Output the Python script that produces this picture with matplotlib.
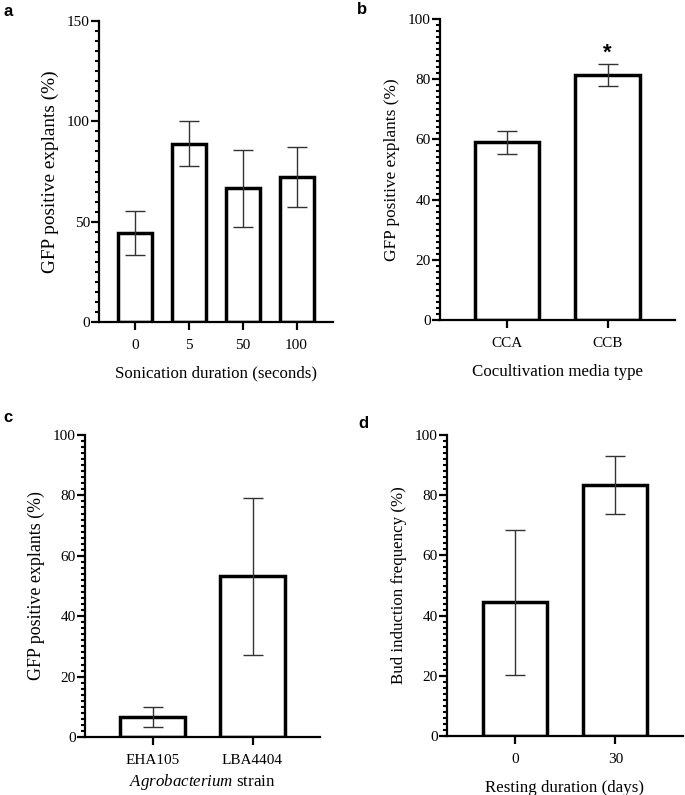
import numpy as np
import matplotlib
matplotlib.use("Agg")
import matplotlib.pyplot as plt
from matplotlib.ticker import MultipleLocator

plt.rcParams["font.family"] = ["Liberation Serif", "DejaVu Serif"]
plt.rcParams["mathtext.fontset"] = "custom"
plt.rcParams["mathtext.rm"] = "Liberation Serif"
plt.rcParams["mathtext.it"] = "Liberation Serif:italic"

# panel a: sonication duration
a_cats = ["0", "5", "50", "100"]
a_vals = [44.4, 88.9, 66.7, 72.2]
a_err = [11.1, 11.1, 19.2, 14.8]

# panel b: cocultivation media
b_cats = ["CCA", "CCB"]
b_vals = [59.0, 81.5]
b_err = [3.7, 3.7]

# panel c: Agrobacterium strain
c_cats = ["EHA105", "LBA4404"]
c_vals = [6.7, 53.3]
c_err = [3.3, 26.0]

# panel d: resting duration
d_cats = ["0", "30"]
d_vals = [44.4, 83.3]
d_err = [24.2, 9.6]

W, H = 685, 795
fig = plt.figure(figsize=(W / 100, H / 100), dpi=100)


def box(l, r, t, b):
    return [l / W, 1 - b / H, (r - l) / W, (b - t) / H]


def panel(rect, cats, vals, err, ymax, major, minor, width, xlim, ylabel, xlabel,
          letter, letter_xy, ysize=12.2, xpad=10, star=None):
    ax = fig.add_axes(rect)
    x = np.arange(len(cats))
    ax.bar(x, vals, width=width, color="white", edgecolor="black", linewidth=2.5,
           zorder=2)
    ax.errorbar(x, vals, yerr=err, fmt="none", ecolor="#333333", elinewidth=1.0,
                capsize=7, capthick=1.0, zorder=3)
    ax.set_ylim(0, ymax)
    ax.set_xlim(*xlim)
    ax.yaxis.set_major_locator(MultipleLocator(major))
    ax.yaxis.set_minor_locator(MultipleLocator(minor))
    ax.set_xticks(x)
    ax.set_xticklabels(cats)
    ax.spines[["top", "right"]].set_visible(False)
    ax.spines[["left", "bottom"]].set_linewidth(1.6)
    ax.tick_params(axis="y", which="major", length=5.5, width=1.6, labelsize=11, pad=1)
    ax.tick_params(axis="y", which="minor", length=3, width=1.5)
    ax.tick_params(axis="x", which="major", length=6, width=1.6, labelsize=11, pad=6)
    ax.set_ylabel(ylabel, fontsize=ysize, labelpad=6)
    ax.set_xlabel(xlabel, fontsize=12.2, labelpad=xpad)
    if star is not None:
        ax.text(star[0], star[1], "*", ha="center", va="center", fontsize=16,
                fontweight="bold", family="Liberation Sans")
    fig.text(letter_xy[0] / W, 1 - letter_xy[1] / H, letter, fontsize=12,
             fontweight="bold", family="Liberation Sans", ha="left", va="center")
    return ax


panel(box(99, 333, 21, 322), a_cats, a_vals, a_err, 150, 50, 5, 0.63,
      (-0.667, 3.676), "GFP positive explants (%)", "Sonication duration (seconds)",
      "a", (3, 12), ysize=13.9)
panel(box(440, 675, 19, 320), b_cats, b_vals, b_err, 100, 20, 2, 0.64,
      (-0.667, 1.67), "GFP positive explants (%)", "Cocultivation media type",
      "b", (357, 10), ysize=12.4, star=(1, 88.5))
panel(box(85, 320, 435, 737), c_cats, c_vals, c_err, 100, 20, 2, 0.65,
      (-0.675, 1.675), "GFP positive explants (%)",
      r"$\it{Agrobacterium}$ strain", "c", (3, 417), ysize=12.9, xpad=4)
panel(box(447, 683, 435, 736), d_cats, d_vals, d_err, 100, 20, 2, 0.64,
      (-0.685, 1.675), "Bud induction frequency (%)", "Resting duration (days)",
      "d", (358, 423), ysize=12.2)

fig.savefig("out.png", dpi=100)
